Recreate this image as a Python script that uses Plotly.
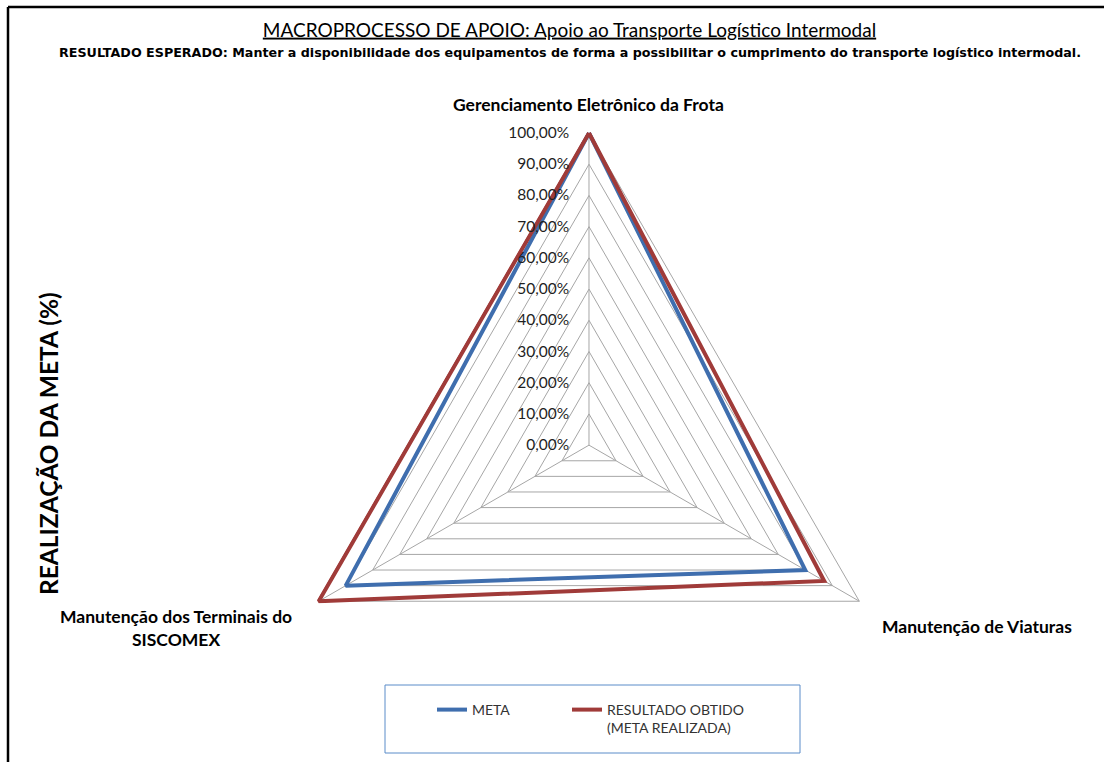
import plotly.graph_objects as go

# ---- data ----
categories = [
    "Gerenciamento Eletrônico da Frota",
    "Manutenção de Viaturas",
    "Manutenção dos Terminais do SISCOMEX",
]
category_labels = [
    "Gerenciamento Eletrônico da Frota",
    "Manutenção de Viaturas",
    "Manutenção dos Terminais do<br>SISCOMEX",
]
meta = [1.00, 0.80, 0.90]
resultado = [1.00, 0.87, 1.00]
radial_ticks = [0.0, 0.1, 0.2, 0.3, 0.4, 0.5, 0.6, 0.7, 0.8, 0.9, 1.0]

series_names = ["META", "RESULTADO OBTIDO<br>(META REALIZADA)"]
title_text = "MACROPROCESSO DE APOIO: Apoio ao Transporte Logístico Intermodal"
subtitle_text = ("RESULTADO ESPERADO: Manter a disponibilidade dos equipamentos de forma "
                 "a possibilitar o cumprimento do transporte logístico intermodal.")
axis_title = "REALIZAÇÃO DA META (%)"

W, H = 1104, 762
BLUE = "#3f6eae"
RED = "#a03b39"
GRID = "#a6a6a6"
FONT = "Lato"

R_MAX = 1.015        # small headroom so lines on the 100% edge are not clipped
APEX_Y = 133         # pixel row of the 100% vertex
CX = 589             # pixel column of the chart centre


def px(x):
    return x / W


def py(y):
    return 1 - y / H


def closed(vals):
    return list(vals) + [vals[0]]


fig = go.Figure()

# spokes from the centre to the 100% ring
spoke_r, spoke_t = [], []
for c in categories:
    spoke_r += [radial_ticks[0], radial_ticks[-1], None]
    spoke_t += [c, c, None]
fig.add_trace(go.Scatterpolar(
    r=spoke_r, theta=spoke_t, mode="lines", line=dict(color=GRID, width=1),
    showlegend=False, hoverinfo="skip",
))

fig.add_trace(go.Scatterpolar(
    r=closed(meta), theta=closed(categories), mode="lines", name=series_names[0],
    line=dict(color=BLUE, width=4), legendwidth=90,
))
fig.add_trace(go.Scatterpolar(
    r=closed(resultado), theta=closed(categories), mode="lines", name=series_names[1],
    line=dict(color=RED, width=4), legendwidth=170,
))

# polar domain runs to the bottom of the page; its top is chosen so the
# 100% vertex sits on APEX_Y
top = (APEX_Y - H / 2 + H / (2 * R_MAX)) / (0.5 + 1 / (2 * R_MAX))
R = (H - top) / 2

fig.update_layout(
    width=W, height=H,
    margin=dict(l=0, r=0, t=0, b=0),
    paper_bgcolor="white",
    separators=",.",
    font=dict(family=FONT, color="#000000"),
    polar=dict(
        domain=dict(x=[px(CX - R), px(CX + R)], y=[0, py(top)]),
        gridshape="linear",
        bgcolor="white",
        angularaxis=dict(
            type="category", categoryarray=categories,
            rotation=90, direction="clockwise",
            showticklabels=False, ticks="",
            showgrid=False, showline=False,
        ),
        radialaxis=dict(
            range=[0, R_MAX], tickvals=radial_ticks, tickformat=".2%",
            angle=90, side="counterclockwise", tickangle=90,
            ticks="outside", ticklen=14, tickcolor="rgba(0,0,0,0)",
            showline=False, showgrid=True, gridcolor=GRID, gridwidth=1,
            tickfont=dict(family=FONT, size=15.5, color="#1f1f1f"),
        ),
    ),
    title=dict(
        text="<u>" + title_text + "</u>",
        x=px(569.5), xanchor="center", y=py(30), yanchor="middle",
        font=dict(family=FONT, size=19, color="#000000"),
    ),
    showlegend=True,
    legend=dict(
        orientation="h", x=px(432), y=py(694), xanchor="left", yanchor="top",
        bgcolor="rgba(0,0,0,0)", borderwidth=0, valign="top",
        font=dict(family=FONT, size=14, color="#333333"),
    ),
)

annotations = [
    dict(text="<b>" + subtitle_text + "</b>", x=px(570), y=py(53),
         font=dict(family="DejaVu Sans", size=12.7, color="#000000")),
    dict(text="<b>" + category_labels[0] + "</b>", x=px(588), y=py(105),
         font=dict(family=FONT, size=17.5, color="#000000")),
    dict(text="<b>" + category_labels[1] + "</b>", x=px(880), y=py(626), xanchor="left",
         font=dict(family=FONT, size=17.5, color="#000000")),
    dict(text="<b>" + category_labels[2] + "</b>", x=px(176), y=py(628), align="center",
         font=dict(family=FONT, size=17.5, color="#000000")),
    dict(text="<b>" + axis_title + "</b>", x=px(48), y=py(444), textangle=-90,
         font=dict(family=FONT, size=24.5, color="#000000")),
]
for a in annotations:
    a.setdefault("xanchor", "center")
    a.setdefault("yanchor", "middle")
    a.update(xref="paper", yref="paper", showarrow=False)
fig.update_layout(annotations=annotations)

fig.update_layout(shapes=[
    # outer frame (top and left edges)
    dict(type="line", xref="paper", yref="paper", x0=px(8), x1=1, y0=py(7), y1=py(7),
         line=dict(color="black", width=2.5)),
    dict(type="line", xref="paper", yref="paper", x0=px(8), x1=px(8), y0=py(7), y1=0,
         line=dict(color="black", width=2.5)),
    # legend box
    dict(type="rect", xref="paper", yref="paper", x0=px(385), x1=px(800), y0=py(753), y1=py(685),
         line=dict(color="#5b8cc9", width=1), fillcolor="rgba(0,0,0,0)"),
])

fig.write_html("out.html")
